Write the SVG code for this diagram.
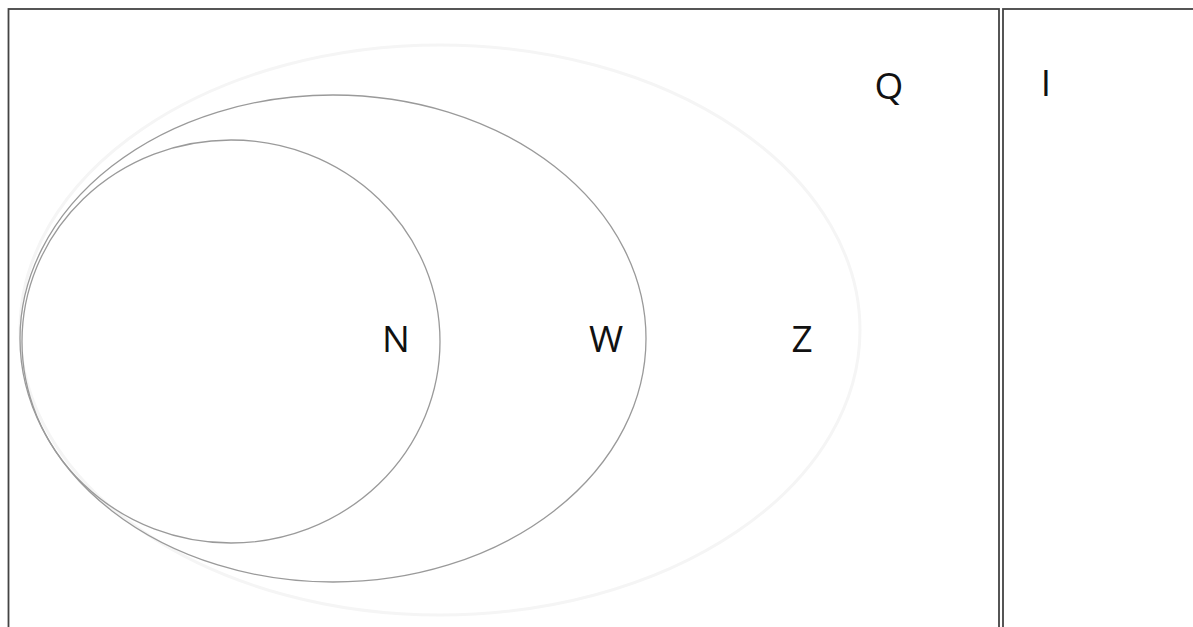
<svg xmlns="http://www.w3.org/2000/svg" width="1193" height="627" viewBox="0 0 1193 627">
<style>
.frame{fill:none;stroke:#444;stroke-width:1.8}
.set{fill:none;stroke:#9a9a9a;stroke-width:1.3}
.faint{fill:none;stroke:#f5f5f5;stroke-width:3}
.lbl{font-family:"Open Sans","Liberation Sans",sans-serif;font-size:37px;fill:#111;text-anchor:middle}
</style>
<rect width="1193" height="627" fill="#fff"/>
<g id="frame">
<rect class="frame" x="8.5" y="9" width="990.5" height="640"/>
<rect class="frame" x="1003" y="9" width="200" height="640"/>
</g>
<g id="Z"><ellipse class="faint" cx="440" cy="330" rx="420" ry="285"/><text class="lbl" x="802" y="352">Z</text></g>
<g id="W"><ellipse class="set" cx="333" cy="338.5" rx="313" ry="243.5"/><text class="lbl" x="606" y="352">W</text></g>
<g id="N"><ellipse class="set" cx="231" cy="341.5" rx="209" ry="201.5"/><text class="lbl" x="396" y="352">N</text></g>
<g id="Q"><text class="lbl" x="889" y="99">Q</text></g>
<g id="I"><text class="lbl" x="1046" y="96">I</text></g>
<g id="connectors"/>
</svg>
